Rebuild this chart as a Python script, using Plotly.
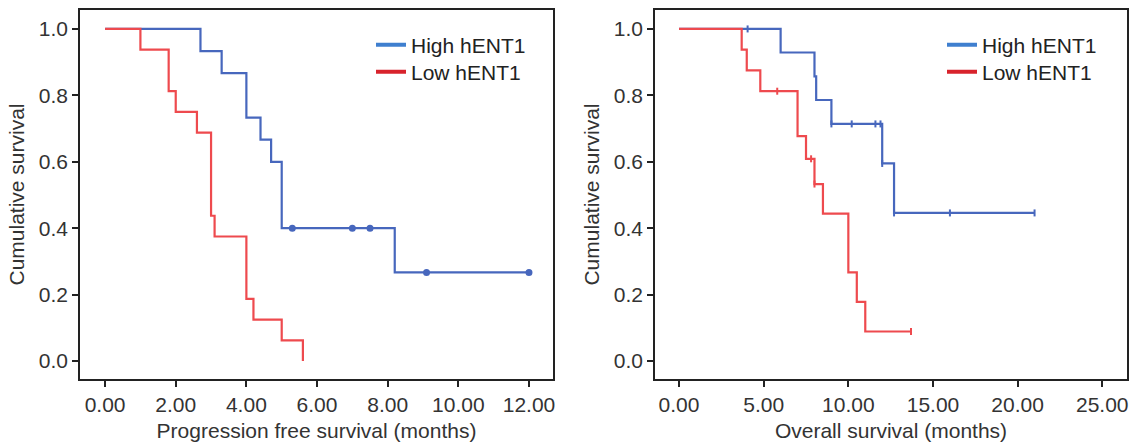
import plotly.graph_objects as go

# ---------------- data ----------------
# Progression free survival (months)
pfs_high_t = [0, 2.7, 3.3, 4.0, 4.4, 4.7, 5.0, 8.2, 12.0]
pfs_high_s = [1.0, 0.933, 0.867, 0.733, 0.667, 0.600, 0.400, 0.267, 0.267]
pfs_high_cens_t = [5.3, 7.0, 7.5, 9.1, 12.0]
pfs_high_cens_s = [0.400, 0.400, 0.400, 0.267, 0.267]

pfs_low_t = [0, 1.0, 1.8, 2.0, 2.6, 3.0, 3.1, 4.0, 4.2, 5.0, 5.6]
pfs_low_s = [1.0, 0.9375, 0.8125, 0.75, 0.6875, 0.4375, 0.375, 0.1875, 0.125, 0.0625, 0.0]

# Overall survival (months)
os_high_t = [0, 6.0, 8.0, 8.1, 9.0, 12.0, 12.7, 21.0]
os_high_s = [1.0, 0.929, 0.857, 0.786, 0.714, 0.595, 0.446, 0.446]
os_high_cens_t = [4.05, 9.0, 10.2, 11.6, 11.9, 12.0, 12.7, 16.0, 21.0]
os_high_cens_s = [1.0, 0.714, 0.714, 0.714, 0.714, 0.595, 0.446, 0.446, 0.446]

os_low_t = [0, 3.7, 4.0, 4.8, 7.0, 7.5, 8.0, 8.5, 10.0, 10.5, 11.0, 13.7]
os_low_s = [1.0, 0.9375, 0.875, 0.8125, 0.677, 0.609, 0.533, 0.444, 0.267, 0.178, 0.089, 0.089]
os_low_cens_t = [5.8, 7.8, 8.0, 13.7]
os_low_cens_s = [0.8125, 0.609, 0.533, 0.089]

pfs_xticks = [0, 2, 4, 6, 8, 10, 12]
os_xticks = [0, 5, 10, 15, 20, 25]
y_ticks = [0.0, 0.2, 0.4, 0.6, 0.8, 1.0]
group_names = ["High hENT1", "Low hENT1"]

# ---------------- style ----------------
BLUE = "#4767BD"
RED = "#EE4A4E"
LEG_BLUE = "#3F7FCF"
LEG_RED = "#D8232C"
DARK = "#222222"
FONT = "Liberation Sans, Arial, Helvetica, sans-serif"
FS = 21

fig = go.Figure()

def step(x, y, color, xa, ya):
    fig.add_trace(go.Scatter(x=x, y=y, mode="lines", line=dict(color=color, width=2.2, shape="hv"),
                             xaxis=xa, yaxis=ya, showlegend=False, hoverinfo="skip"))

def cens(x, y, color, xa, ya, symbol, size):
    fig.add_trace(go.Scatter(x=x, y=y, mode="markers",
                             marker=dict(symbol=symbol, size=size, color=color,
                                         line=dict(color=color, width=2)),
                             xaxis=xa, yaxis=ya, showlegend=False, hoverinfo="skip"))

# left panel
step(pfs_high_t, pfs_high_s, BLUE, "x", "y")
step(pfs_low_t, pfs_low_s, RED, "x", "y")
cens(pfs_high_cens_t, pfs_high_cens_s, BLUE, "x", "y", "circle", 5)
# right panel
step(os_high_t, os_high_s, BLUE, "x2", "y2")
step(os_low_t, os_low_s, RED, "x2", "y2")
cens(os_high_cens_t, os_high_cens_s, BLUE, "x2", "y2", "line-ns", 5)
cens(os_low_cens_t, os_low_cens_s, RED, "x2", "y2", "line-ns", 5)

# legend entries: one legend per row so rows can be placed exactly
legend_ids = [("legend", "legend2"), ("legend3", "legend4")]
for (lg_hi, lg_lo), xa, ya in zip(legend_ids, ["x", "x2"], ["y", "y2"]):
    for name, col, lg in zip(group_names, [LEG_BLUE, LEG_RED], [lg_hi, lg_lo]):
        fig.add_trace(go.Scatter(x=[None], y=[None], mode="lines", name=name,
                                 line=dict(color=col, width=4),
                                 xaxis=xa, yaxis=ya, legend=lg, showlegend=True))

axis_common = dict(showline=True, mirror=True, linecolor=DARK, linewidth=1.5,
                   ticks="outside", ticklen=6, tickwidth=1.5, tickcolor=DARK,
                   showgrid=False, zeroline=False, automargin=False,
                   tickfont=dict(family=FONT, size=FS, color="#333333"),
                   title_font=dict(family=FONT, size=FS, color="#333333"))

L, R, T, B = 80, 3, 10, 63
W = 1130 - L - R
H = 442 - T - B
d1 = [0, (553 - L) / W]
d2 = [(655 - L) / W, 1]

def leg(px_x, px_y):
    return dict(x=(px_x - L) / W, y=1 - (px_y - T) / H, xanchor="left", yanchor="middle",
                xref="paper", yref="paper", bgcolor="rgba(0,0,0,0)",
                font=dict(family=FONT, size=FS, color="#222222"))

fig.update_layout(
    width=1130, height=442,
    margin=dict(l=L, r=R, t=T, b=B),
    paper_bgcolor="white", plot_bgcolor="white",
    font=dict(family=FONT, size=FS, color="#333333"),
    xaxis=dict(domain=d1, range=[-0.71, 12.68], tickvals=pfs_xticks, tickformat=".2f",
               title=dict(text="Progression free survival (months)", standoff=14), **axis_common),
    yaxis=dict(domain=[0, 1], range=[-0.054, 1.057], tickvals=y_ticks, tickformat=".1f",
               title=dict(text="Cumulative survival", standoff=8), **axis_common),
    xaxis2=dict(domain=d2, range=[-1.42, 26.46], tickvals=os_xticks, tickformat=".2f",
                title=dict(text="Overall survival (months)", standoff=14), anchor="y2", **axis_common),
    yaxis2=dict(domain=[0, 1], range=[-0.054, 1.057], tickvals=y_ticks, tickformat=".1f",
                title=dict(text="Cumulative survival", standoff=8), anchor="x2", **axis_common),
    legend=leg(371, 45),
    legend2=leg(371, 72),
    legend3=leg(942, 45),
    legend4=leg(942, 72),
)

fig.write_html("out.html", config={"displayModeBar": False},
               post_script="document.body.style.margin='0';")
